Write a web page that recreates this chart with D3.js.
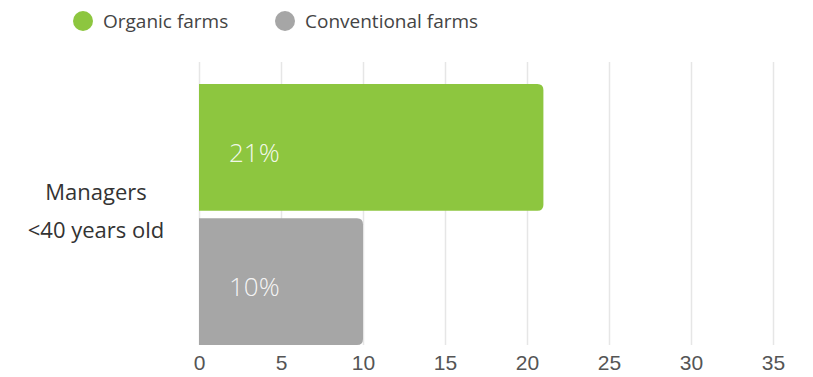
<!DOCTYPE html>
<html>
<head>
<meta charset="utf-8">
<script src="https://cdn.jsdelivr.net/npm/d3@7"></script>
<style>
  body { margin: 0; background: #fff; }
  svg { display: block; font-family: "Open Sans", "Noto Sans", sans-serif; }
  .axis path { display: none; }
  .axis line { stroke: #e6e6e6; stroke-width: 1.5; }
  .axis text { fill: #555; font-size: 21px; }
</style>
</head>
<body>
<svg id="MyGraph" width="813" height="377"></svg>
<script>
// data
var categories = ["Managers <40 years old"];
var categoryLines = [["Managers", "<40 years old"]];
var seriesNames = ["Organic farms", "Conventional farms"];
var seriesColors = ["#8dc63f", "#a6a6a6"];
var organicValues = [21];
var conventionalValues = [10];
var xTicks = [0, 5, 10, 15, 20, 25, 30, 35];

var svg = d3.select("#MyGraph");

var margin = {top: 62, left: 199, bottom: 345};
var x_scale = d3.scaleLinear()
    .domain([0, 35])
    .range([margin.left, margin.left + 35 * 16.4]);

// category band
var y_scale = d3.scaleBand()
    .domain(categories)
    .range([84, 345]);

var y_inner = d3.scaleBand()
    .domain(seriesNames)
    .range([0, y_scale.bandwidth()])
    .paddingInner(0.055);

// grid + x axis
svg.append("g")
    .attr("class", "axis")
    .attr("transform", "translate(0," + margin.bottom + ")")
    .call(d3.axisBottom(x_scale)
        .tickValues(xTicks)
        .tickSizeInner(-(margin.bottom - margin.top))
        .tickSizeOuter(0)
        .tickPadding(10));

// bar with rounded right corners
function barPath(x0, x1, y0, h, r){
  r = Math.min(r, (x1 - x0) / 2, h / 2);
  return "M" + x0 + "," + y0 +
    "H" + (x1 - r) +
    "Q" + x1 + "," + y0 + " " + x1 + "," + (y0 + r) +
    "V" + (y0 + h - r) +
    "Q" + x1 + "," + (y0 + h) + " " + (x1 - r) + "," + (y0 + h) +
    "H" + x0 + "Z";
}

var rows = [];
categories.forEach(function(c, i){
  rows.push({cat: c, series: seriesNames[0], value: organicValues[i], color: seriesColors[0]});
  rows.push({cat: c, series: seriesNames[1], value: conventionalValues[i], color: seriesColors[1]});
});

svg.selectAll("path.bar")
    .data(rows)
    .enter()
    .append("path")
    .attr("class", "bar")
    .attr("fill", function(d){ return d.color; })
    .attr("d", function(d){
      return barPath(x_scale(0), x_scale(d.value), y_scale(d.cat) + y_inner(d.series), y_inner.bandwidth(), 6);
    });

svg.selectAll("text.val")
    .data(rows)
    .enter()
    .append("text")
    .attr("class", "val")
    .attr("x", x_scale(0) + 30)
    .attr("y", function(d){ return y_scale(d.cat) + y_inner(d.series) + y_inner.bandwidth() / 2 + 5; })
    .attr("dy", "0.35em")
    .attr("fill", "#fff")
    .attr("fill-opacity", 0.9)
    .style("font-size", "26px")
    .style("font-weight", 300)
    .text(function(d){ return d.value + "%"; });

// category label
categories.forEach(function(c, i){
  var t = svg.append("text")
      .attr("x", 96)
      .attr("y", y_scale(c) + y_scale.bandwidth() / 2 - 22)
      .attr("text-anchor", "middle")
      .attr("fill", "#333")
      .style("font-size", "22px");
  categoryLines[i].forEach(function(line, j){
    t.append("tspan")
        .attr("x", 96)
        .attr("dy", j == 0 ? "0.35em" : "1.7em")
        .text(line);
  });
});

// legend
var legendX = [83, 285];
var legend = svg.selectAll("g.legend")
    .data(seriesNames)
    .enter()
    .append("g")
    .attr("class", "legend")
    .attr("transform", function(d, i){ return "translate(" + legendX[i] + ",21)"; });

legend.append("circle")
    .attr("r", 10)
    .attr("fill", function(d, i){ return seriesColors[i]; });

legend.append("text")
    .attr("x", 20)
    .attr("dy", "0.35em")
    .attr("fill", "#444")
    .style("font-size", "19px")
    .text(function(d){ return d; });
</script>
</body>
</html>
